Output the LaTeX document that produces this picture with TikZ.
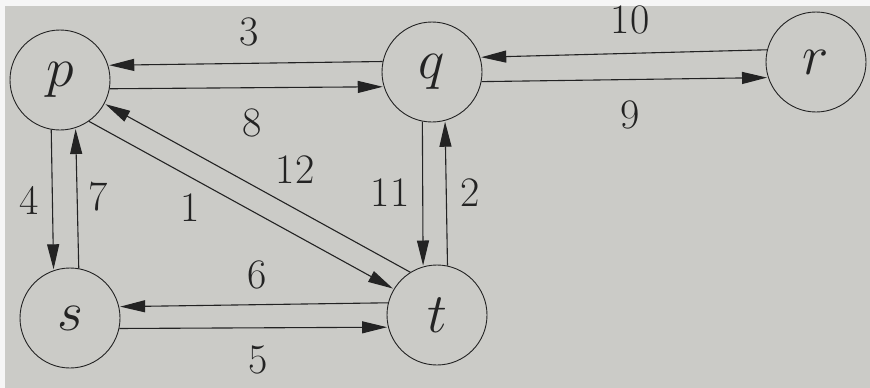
\RequirePackage{fix-cm}
\documentclass[tikz,border=0pt]{standalone}
\usetikzlibrary{arrows.meta}
\definecolor{page}{RGB}{203,203,199}
\definecolor{ink}{RGB}{35,35,35}
\begin{document}
\begin{tikzpicture}[x=1pt,y=-1pt,
  vtx/.style={circle,draw=ink,line width=0.9pt,minimum size=100pt,inner sep=0pt,
    font=\fontsize{56}{60}\selectfont,text=ink},
  wt/.style={font=\fontsize{42}{46}\selectfont,text=ink,inner sep=0pt},
  arc/.style={draw=ink,line width=1.1pt,-{Triangle[length=25pt,width=12pt]},shorten >=1pt}]
\fill[page] (0,0) rectangle (870,388);
\fill[white!93!gray] (0,0) rectangle (870,6);
\fill[white!93!gray] (0,0) rectangle (5,388);
\useasboundingbox (0,0) rectangle (870,388);
\node[vtx] (p) at (60,80) {$p$};
\node[vtx] (q) at (432,72) {$q$};
\node[vtx] (r) at (816,62) {$r$};
\node[vtx] (s) at (70,318) {$s$};
\node[vtx] (t) at (437,315) {$t$};
% edges
\draw[arc] (q.168.5) -- (p.17.5);
\draw[arc] (p.-10.5) -- (q.-163.7);
\draw[arc] (r.166) -- (q.17.5);
\draw[arc] (q.-11.5) -- (r.-162.5);
\draw[arc] (p.-100.4) -- (s.109.9);
\draw[arc] (s.80.8) -- (p.-72.5);
\draw[arc] (q.-101.5) -- (t.106.3);
\draw[arc] (t.78.5) -- (q.-75);
\draw[arc] (t.166) -- (s.13.9);
\draw[arc] (s.-12.7) -- (t.-166);
\draw[arc] (p.-55.5) -- (t.149.2);
\draw[arc] (t.122.8) -- (p.-28.5);
% weights
\node[wt] (w3) at (249,32) {3};
\node[wt] (w8) at (252,123) {8};
\node[wt] (w10) at (630,20) {10};
\node[wt] (w9) at (630,115) {9};
\node[wt] (w4) at (29,200) {4};
\node[wt] (w7) at (98,197) {7};
\node[wt] (w1) at (190,208) {1};
\node[wt] (w12) at (295,170) {12};
\node[wt] (w11) at (390,193) {11};
\node[wt] (w2) at (470,193) {2};
\node[wt] (w6) at (257,275) {6};
\node[wt] (w5) at (258,360) {5};
\end{tikzpicture}
\end{document}
